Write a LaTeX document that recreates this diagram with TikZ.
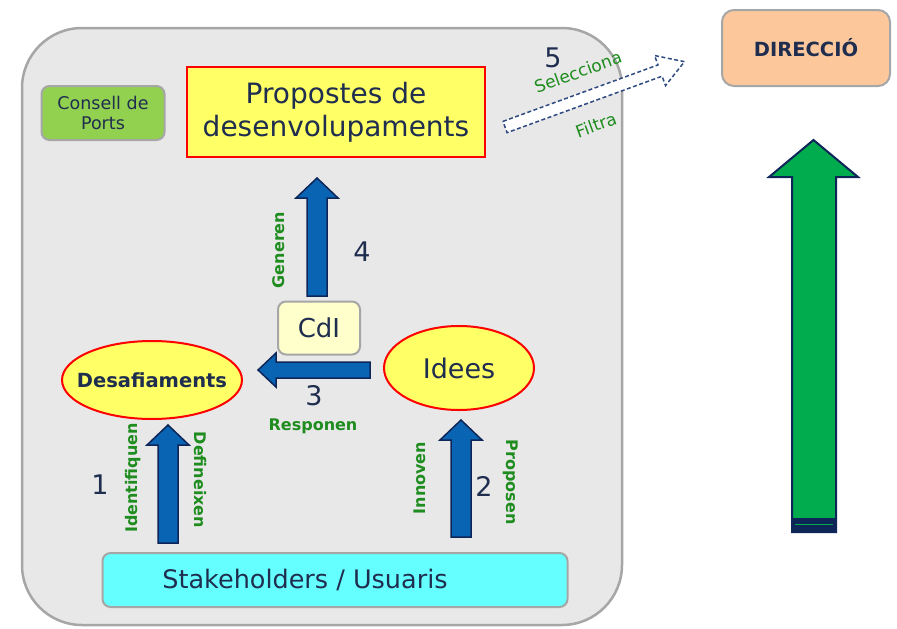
\documentclass[tikz,border=0pt]{standalone}
\usepackage{fontspec}
\setmainfont{DejaVu Sans}
\usepackage{tikz}
\usetikzlibrary{calc}
\usetikzlibrary{shapes.geometric}
\definecolor{GrisFons}{HTML}{E8E8E8}
\definecolor{GrisVora}{HTML}{A6A6A6}
\definecolor{TextBlau}{HTML}{1F2D4F}
\definecolor{VerdText}{HTML}{1E8C1E}
\definecolor{BlauFletxa}{HTML}{0A64B4}
\definecolor{BlauFosc}{HTML}{0E2558}
\definecolor{BlauRatlla}{HTML}{2F4A80}
\definecolor{VerdFletxa}{HTML}{00AC4E}
\definecolor{GrocClar}{HTML}{FFFF66}
\definecolor{Taronja}{HTML}{FCC89B}

% vertical block arrow, #1 tail, #2 tip
\newcommand{\fletxaamunt}[2]{%
  \draw[blockarrow] let \p1=(#1), \p2=(#2) in
    (\x1-10pt,\y1) -- (\x1-10pt,\y2-20pt) -- (\x1-21pt,\y2-20pt) -- (\x1,\y2)
    -- (\x1+21pt,\y2-20pt) -- (\x1+10pt,\y2-20pt) -- (\x1+10pt,\y1) -- cycle;}
% horizontal block arrow pointing left
\newcommand{\fletxaesquerra}[2]{%
  \draw[blockarrow] let \p1=(#1), \p2=(#2) in
    (\x1,\y1-8pt) -- (\x2+18pt,\y1-8pt) -- (\x2+18pt,\y1-17pt) -- (\x2,\y1)
    -- (\x2+18pt,\y1+17pt) -- (\x2+18pt,\y1+8pt) -- (\x1,\y1+8pt) -- cycle;}

\begin{document}
\begin{tikzpicture}[x=1pt,y=-1pt,
  box/.style={draw=GrisVora, line width=2pt, rounded corners=8pt, text=TextBlau, align=center},
  bubble/.style={ellipse, draw=red, line width=2pt, fill=GrocClar, text=TextBlau, inner sep=0pt},
  verb/.style={text=VerdText, font=\bfseries\fontsize{16}{19}\selectfont},
  num/.style={text=TextBlau, font=\fontsize{27}{32}\selectfont},
  blockarrow/.style={fill=BlauFletxa, draw=BlauFosc, line width=1.5pt}]
\useasboundingbox (0,0) rectangle (897,629);

  % container
  \draw[fill=GrisFons, draw=GrisVora, line width=2.5pt, rounded corners=60pt] (22,28) rectangle (622,625);

  % boxes
  \node[box, fill=Taronja, rounded corners=12pt, minimum width=168, minimum height=76,
        font=\bfseries\fontsize{19.5}{23}\selectfont] (direccio) at (806,48) {DIRECCIÓ};
  \node[box, fill=GrocClar, draw=red, line width=2.5pt, rounded corners=0pt, minimum width=298, minimum height=90,
        font=\fontsize{28}{33}\selectfont] (propostes) at (336,112) {Propostes de\\desenvolupaments\hspace{8pt}};
  \node[box, fill={rgb,255:red,146;green,208;blue,80}, minimum width=123, minimum height=54,
        font=\fontsize{17.5}{20}\selectfont, inner sep=1pt] (consell) at (103,113) {Consell de\\Ports};
  \node[box, fill={rgb,255:red,255;green,255;blue,204}, minimum width=82, minimum height=53,
        font=\fontsize{26}{30}\selectfont] (cdi) at (319,328) {CdI};
  \node[box, fill={rgb,255:red,102;green,255;blue,255}, minimum width=465, minimum height=54,
        font=\fontsize{25.5}{30}\selectfont] (stake) at (335,580) {\hspace{-60pt}Stakeholders / Usuaris};
  \node[bubble, inner xsep=-14pt, minimum width=180, minimum height=78,
        font=\bfseries\fontsize{19.5}{23}\selectfont] (desaf) at (152,380) {Desafiaments};
  \node[bubble, minimum width=150, minimum height=84, font=\fontsize{27}{32}\selectfont] (idees) at (459,368) {Idees};

  % arrows
  \coordinate (f1a) at (168,543); \coordinate (f1b) at (168,425);
  \coordinate (f2a) at (461,537); \coordinate (f2b) at (461,420);
  \coordinate (f3a) at (370,370); \coordinate (f3b) at (258,370);
  \coordinate (f4a) at (317,296); \coordinate (f4b) at (317,178);
  \fletxaamunt{f1a}{f1b}
  \fletxaamunt{f2a}{f2b}
  \fletxaesquerra{f3a}{f3b}
  \fletxaamunt{f4a}{f4b}

  % dashed arrow to direccio
\begin{scope}[shift={(505,127)}, rotate=20]
    \draw[BlauRatlla, dash pattern=on 4pt off 2.5pt, line width=1.5pt, fill=white]
      (0,-6) -- (165,-6) -- (165,-16) -- (191,0) -- (165,16) -- (165,6) -- (0,6) -- cycle;
\end{scope}

  % green arrow
  \draw[fill=VerdFletxa, draw=BlauFosc, line width=2pt]
    (792,532) -- (792,177) -- (769,177) -- (813.5,140) -- (858,177) -- (836,177) -- (836,532) -- cycle;
  \fill[BlauFosc] (792,518) rectangle (836,532);
  \draw[VerdFletxa, line width=.8pt] (795,524) -- (833,524);

  % labels
  \node[num] (n1) at (100,485) {1};
  \node[num] (n2) at (484,486) {2};
  \node[num] (n3) at (314,396) {3};
  \node[num] (n4) at (362,252) {4};
  \node[num] (n5) at (553,58) {5};
  \node[verb, rotate=90] (identifiquen) at (133,478) {Identifiquen};
  \node[verb, rotate=-90] (defineixen) at (200,480) {Defineixen};
  \node[verb, rotate=90] (innoven) at (420,478) {Innoven};
  \node[verb, rotate=-90] (proposen) at (511,482) {Proposen};
  \node[verb, rotate=90] (generen) at (279,250) {Generen};
  \node[verb] (responen) at (313,426) {Responen};
  \node[verb, font=\fontsize{17}{20}\selectfont, rotate=20] (selecciona) at (578,72) {Selecciona};
  \node[verb, font=\fontsize{17}{20}\selectfont, rotate=20] (filtra) at (596,125) {Filtra};
\end{tikzpicture}
\end{document}
